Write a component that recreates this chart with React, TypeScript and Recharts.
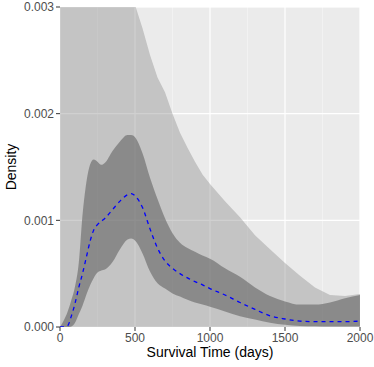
import React from 'react';
import { ComposedChart, Area, Line, XAxis, YAxis, CartesianGrid } from 'recharts';

const days = [0, 25, 50, 75, 100, 125, 150, 175, 200, 225, 250, 275, 300, 350, 400, 450, 475, 500, 550, 600, 650, 700, 750, 800, 850, 900, 950, 1000, 1100, 1200, 1300, 1400, 1500, 1600, 1700, 1800, 1900, 2000];

const meanDensity = [0, 0, 0.00001, 0.0001, 0.00022, 0.00037, 0.0005, 0.00065, 0.0008, 0.00091, 0.00096, 0.00099, 0.00102, 0.0011, 0.00118, 0.00124, 0.00125, 0.00123, 0.00112, 0.00092, 0.00074, 0.00062, 0.00055, 0.0005, 0.00046, 0.000425, 0.000395, 0.00036, 0.0003, 0.00023, 0.000165, 0.000105, 0.000075, 0.000055, 0.00005, 0.00005, 0.00005, 0.000055];

const innerLower = [0, 0, 0, 0.000005, 0.00004, 0.00012, 0.0002, 0.0003, 0.00039, 0.00046, 0.00051, 0.00053, 0.00054, 0.00061, 0.00073, 0.00082, 0.00083, 0.00081, 0.00069, 0.00052, 0.00041, 0.00036, 0.000315, 0.000285, 0.000255, 0.00023, 0.00021, 0.00019, 0.000145, 0.0001, 0.00007, 0.00004, 0.00002, 0.00001, 0.000007, 0.000005, 0.000005, 0.000005];

const innerUpper = [0, 0.00006, 0.00014, 0.00025, 0.00038, 0.0006, 0.00105, 0.00135, 0.00152, 0.00157, 0.00155, 0.00152, 0.00154, 0.00165, 0.00174, 0.0018, 0.0018, 0.00178, 0.00163, 0.0014, 0.0012, 0.00102, 0.00088, 0.00079, 0.00074, 0.000705, 0.00067, 0.00064, 0.00055, 0.00047, 0.00037, 0.00029, 0.00024, 0.00021, 0.00021, 0.00023, 0.00027, 0.0003];

const outerLower = [0, 0, 0, 0, 0, 0, 0, 0, 0, 0, 0, 0, 0, 0, 0, 0, 0, 0, 0, 0, 0, 0, 0, 0, 0, 0, 0, 0, 0, 0, 0, 0, 0, 0, 0, 0, 0, 0];

const outerUpper = [0.004, 0.004, 0.004, 0.004, 0.004, 0.004, 0.004, 0.004, 0.004, 0.004, 0.004, 0.004, 0.004, 0.004, 0.004, 0.004, 0.004, 0.00302, 0.0028, 0.00255, 0.00234, 0.0022, 0.002, 0.00182, 0.00168, 0.00155, 0.00143, 0.00134, 0.00118, 0.00103, 0.00086, 0.00073, 0.0006, 0.00048, 0.00037, 0.0003, 0.00029, 0.00031];

const xTicks = [0, 500, 1000, 1500, 2000];
const xMinorTicks = [250, 750, 1250, 1750];
const yTicks = [0, 0.001, 0.002, 0.003];
const yMinorTicks = [0.0005, 0.0015, 0.0025];

const data = days.map((d, i) => ({
  day: d,
  mean: meanDensity[i],
  inner: [innerLower[i], innerUpper[i]],
  outer: [outerLower[i], outerUpper[i]],
}));

export default function App() {
  return (
    <div style={{ position: 'absolute', left: 0, top: 0, width: 374, height: 367, fontFamily: '"Liberation Sans", Arial, sans-serif', background: '#fff' }}>
      <ComposedChart width={374} height={367} data={data} margin={{ top: 7, right: 14, bottom: 7, left: 0 }}>
        <XAxis xAxisId="minor" dataKey="day" type="number" domain={[0, 2000]} ticks={xMinorTicks} hide />
        <YAxis yAxisId="minor" type="number" domain={[0, 0.003]} ticks={yMinorTicks} hide />
        <CartesianGrid xAxisId="minor" yAxisId="minor" fill="#EBEBEB" fillOpacity={1} stroke="#FFFFFF" strokeOpacity={0.6} strokeWidth={0.6} />
        <CartesianGrid stroke="#FFFFFF" strokeWidth={1.2} />
        <XAxis
          dataKey="day"
          type="number"
          domain={[0, 2000]}
          ticks={xTicks}
          interval={0}
          axisLine={false}
          tickLine={{ stroke: '#333333' }}
          tickSize={4}
          tickMargin={2}
          tick={{ fill: '#4D4D4D', fontSize: 12 }}
          height={33}
          label={{ value: 'Survival Time (days)', position: 'insideBottom', offset: 3, fill: '#000000', fontSize: 14 }}
        />
        <YAxis
          type="number"
          domain={[0, 0.003]}
          ticks={yTicks}
          interval={0}
          allowDataOverflow
          tickFormatter={(v: number) => v.toFixed(3)}
          axisLine={false}
          tickLine={{ stroke: '#333333' }}
          tickSize={4}
          tickMargin={2}
          tick={{ fill: '#4D4D4D', fontSize: 12 }}
          width={60}
          label={{ value: 'Density', angle: -90, position: 'insideLeft', offset: 11, fill: '#000000', fontSize: 14, style: { textAnchor: 'middle' } }}
        />
        <Area type="linear" dataKey="outer" stroke="none" fill="#8A8A8A" fillOpacity={0.4} isAnimationActive={false} activeDot={false} />
        <Area type="monotone" dataKey="inner" stroke="none" fill="#646464" fillOpacity={0.6} isAnimationActive={false} activeDot={false} />
        <Line type="monotone" dataKey="mean" stroke="#0000FF" strokeWidth={1.3} strokeDasharray="4 4" dot={false} activeDot={false} isAnimationActive={false} />
      </ComposedChart>
    </div>
  );
}
